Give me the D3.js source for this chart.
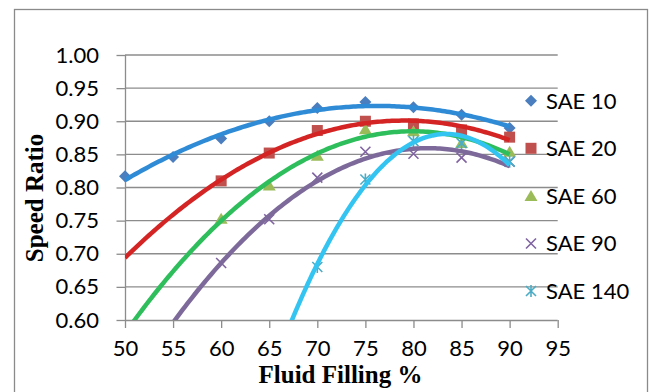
<!DOCTYPE html>
<html>
<head>
<meta charset="utf-8">
<script src="https://cdn.jsdelivr.net/npm/d3@7"></script>
<style>
  html, body { margin: 0; padding: 0; background: #fff; }
  svg { display: block; }
</style>
</head>
<body>
<svg id="chart" width="653" height="392"></svg>
<script>
// Fluid filling (%) at which each oil grade was tested
const fillingSAE10  = [50, 55, 60, 65, 70, 75, 80, 85, 90];
const fillingSAE20  = [60, 65, 70, 75, 80, 85, 90];
const fillingSAE60  = [60, 65, 70, 75, 80, 85, 90];
const fillingSAE90  = [60, 65, 70, 75, 80, 85, 90];
const fillingSAE140 = [70, 75, 80, 85, 90];

// Measured speed ratios
const ratioSAE10  = [0.817, 0.846, 0.874, 0.900, 0.920, 0.929, 0.921, 0.910, 0.890];
const ratioSAE20  = [0.810, 0.852, 0.886, 0.900, 0.896, 0.887, 0.876];
const ratioSAE60  = [0.753, 0.803, 0.848, 0.888, 0.885, 0.867, 0.854];
const ratioSAE90  = [0.686, 0.752, 0.815, 0.854, 0.851, 0.845, 0.839];
const ratioSAE140 = [0.680, 0.812, 0.870, 0.867, 0.839];

const seriesNames = ["SAE 10", "SAE 20", "SAE 60", "SAE 90", "SAE 140"];
const xTicks = [50, 55, 60, 65, 70, 75, 80, 85, 90, 95];
const yTicks = [0.60, 0.65, 0.70, 0.75, 0.80, 0.85, 0.90, 0.95, 1.00];

const markerColors = ["#4a7ebf", "#c0504d", "#9bbb59", "#8064a2", "#4bacc6"];
const lineColors   = ["#2f8bd6", "#d42424", "#2fbe5c", "#7d6a9b", "#33c4f2"];
const markerTypes  = ["diamond", "square", "triangle", "cross", "asterisk"];

const series = seriesNames.map((name, i) => ({
  name,
  x: [fillingSAE10, fillingSAE20, fillingSAE60, fillingSAE90, fillingSAE140][i],
  y: [ratioSAE10, ratioSAE20, ratioSAE60, ratioSAE90, ratioSAE140][i],
  marker: markerColors[i],
  line: lineColors[i],
  type: markerTypes[i]
}));

const svg = d3.select("#chart");
const plotLeft = 125, plotRight = 557.7, plotTop = 55, plotBottom = 320;

const x = d3.scaleLinear().domain([50, 95]).range([plotLeft, plotRight]);
const y = d3.scaleLinear().domain([0.60, 1.00]).range([plotBottom, plotTop]);

// Outer chart frame
svg.append("rect")
  .attr("x", 14.5).attr("y", 9.5)
  .attr("width", 633).attr("height", 400)
  .attr("fill", "none").attr("stroke", "#8a8a8a").attr("stroke-width", 1.3);

// Horizontal gridlines
svg.append("g")
  .selectAll("line")
  .data(yTicks.slice(1))
  .join("line")
  .attr("x1", plotLeft).attr("x2", plotRight)
  .attr("y1", d => y(d)).attr("y2", d => y(d))
  .attr("stroke", "#8c8c8c").attr("stroke-width", 1.3);

// Axes
const yAxis = svg.append("g")
  .attr("transform", `translate(${plotLeft},0)`)
  .call(d3.axisLeft(y).tickValues(yTicks).tickFormat(d3.format(".2f")).tickSize(8.5).tickPadding(17.5));
const xAxis = svg.append("g")
  .attr("transform", `translate(0,${plotBottom})`)
  .call(d3.axisBottom(x).tickValues(xTicks).tickFormat(d3.format("d")).tickSize(8).tickPadding(12));

[yAxis, xAxis].forEach(ax => {
  ax.select(".domain").attr("stroke", "#8c8c8c").attr("stroke-width", 1.3);
  ax.selectAll(".tick line").attr("stroke", "#8c8c8c").attr("stroke-width", 1.3);
  ax.selectAll("text")
    .attr("fill", "#000")
    .style("font-family", "Lato, 'Open Sans', sans-serif")
    .style("font-size", "22px");
});
xAxis.select(".domain").attr("d", `M${plotLeft},0.5H${plotRight}`);
yAxis.select(".domain").attr("d", `M0.5,${plotTop}V${plotBottom}`);

// Axis titles
svg.append("text")
  .attr("x", 340.5).attr("y", 383)
  .attr("text-anchor", "middle")
  .style("font-family", "'Liberation Serif', 'Times New Roman', serif")
  .style("font-weight", "bold").style("font-size", "25px")
  .text("Fluid Filling %");
svg.append("text")
  .attr("transform", "translate(43,198) rotate(-90)")
  .attr("text-anchor", "middle")
  .style("font-family", "'Liberation Serif', 'Times New Roman', serif")
  .style("font-weight", "bold").style("font-size", "25px")
  .text("Speed Ratio");

// Marker shapes
function drawMarker(g, type, color, cx, cy) {
  if (type === "diamond") {
    g.append("path").attr("d", `M${cx},${cy - 6}L${cx + 6},${cy}L${cx},${cy + 6}L${cx - 6},${cy}Z`).attr("fill", color);
  } else if (type === "square") {
    g.append("rect").attr("x", cx - 5.5).attr("y", cy - 5.5).attr("width", 11).attr("height", 11).attr("fill", color);
  } else if (type === "triangle") {
    g.append("path").attr("d", `M${cx},${cy - 6}L${cx + 6.5},${cy + 5}L${cx - 6.5},${cy + 5}Z`).attr("fill", color);
  } else if (type === "cross") {
    g.append("path").attr("d", `M${cx - 5},${cy - 5}L${cx + 5},${cy + 5}M${cx + 5},${cy - 5}L${cx - 5},${cy + 5}`)
      .attr("stroke", color).attr("stroke-width", 1.6).attr("fill", "none");
  } else {
    g.append("path").attr("d", `M${cx - 5},${cy - 5}L${cx + 5},${cy + 5}M${cx + 5},${cy - 5}L${cx - 5},${cy + 5}M${cx},${cy - 6}V${cy + 6}`)
      .attr("stroke", color).attr("stroke-width", 1.6).attr("fill", "none");
  }
}

// Second-order least-squares trendline
function quadFit(xs, ys) {
  const mx = d3.mean(xs);
  const u = xs.map(v => v - mx);
  const s = [0, 0, 0, 0, 0], t = [0, 0, 0];
  u.forEach((ui, i) => {
    for (let k = 0; k < 5; k++) s[k] += ui ** k;
    for (let k = 0; k < 3; k++) t[k] += ys[i] * ui ** k;
  });
  const A = [[s[0], s[1], s[2]], [s[1], s[2], s[3]], [s[2], s[3], s[4]]];
  const b = t.slice();
  for (let i = 0; i < 3; i++) {
    for (let j = i + 1; j < 3; j++) {
      const f = A[j][i] / A[i][i];
      for (let k = i; k < 3; k++) A[j][k] -= f * A[i][k];
      b[j] -= f * b[i];
    }
  }
  const c = [0, 0, 0];
  for (let i = 2; i >= 0; i--) {
    let sum = b[i];
    for (let k = i + 1; k < 3; k++) sum -= A[i][k] * c[k];
    c[i] = sum / A[i][i];
  }
  return v => c[0] + c[1] * (v - mx) + c[2] * (v - mx) ** 2;
}

svg.append("clipPath").attr("id", "plotClip")
  .append("rect").attr("x", plotLeft).attr("y", 0).attr("width", plotRight - plotLeft).attr("height", plotBottom);

const markersG = svg.append("g");
series.forEach(s => {
  s.x.forEach((xv, i) => drawMarker(markersG, s.type, s.marker, x(xv), y(s.y[i])));
});

const linesG = svg.append("g").attr("clip-path", "url(#plotClip)");
const line = d3.line().x(d => x(d[0])).y(d => y(d[1]));
series.forEach(s => {
  const f = quadFit(s.x, s.y);
  const pts = d3.range(50, 90.001, 0.25).map(v => [v, f(v)]);
  linesG.append("path")
    .attr("d", line(pts))
    .attr("fill", "none")
    .attr("stroke", s.line)
    .attr("stroke-width", 4.5)
    .attr("stroke-linecap", "butt");
});

// Legend
const legendRows = [100.7, 148.3, 196, 243.5, 291];
const legend = svg.append("g");
series.forEach((s, i) => {
  drawMarker(legend, s.type, s.marker, 531, legendRows[i]);
  legend.append("text")
    .attr("x", 546).attr("y", legendRows[i])
    .attr("dy", "0.36em")
    .style("font-family", "Lato, 'Open Sans', sans-serif")
    .style("font-size", "22px")
    .text(s.name);
});
</script>
</body>
</html>
